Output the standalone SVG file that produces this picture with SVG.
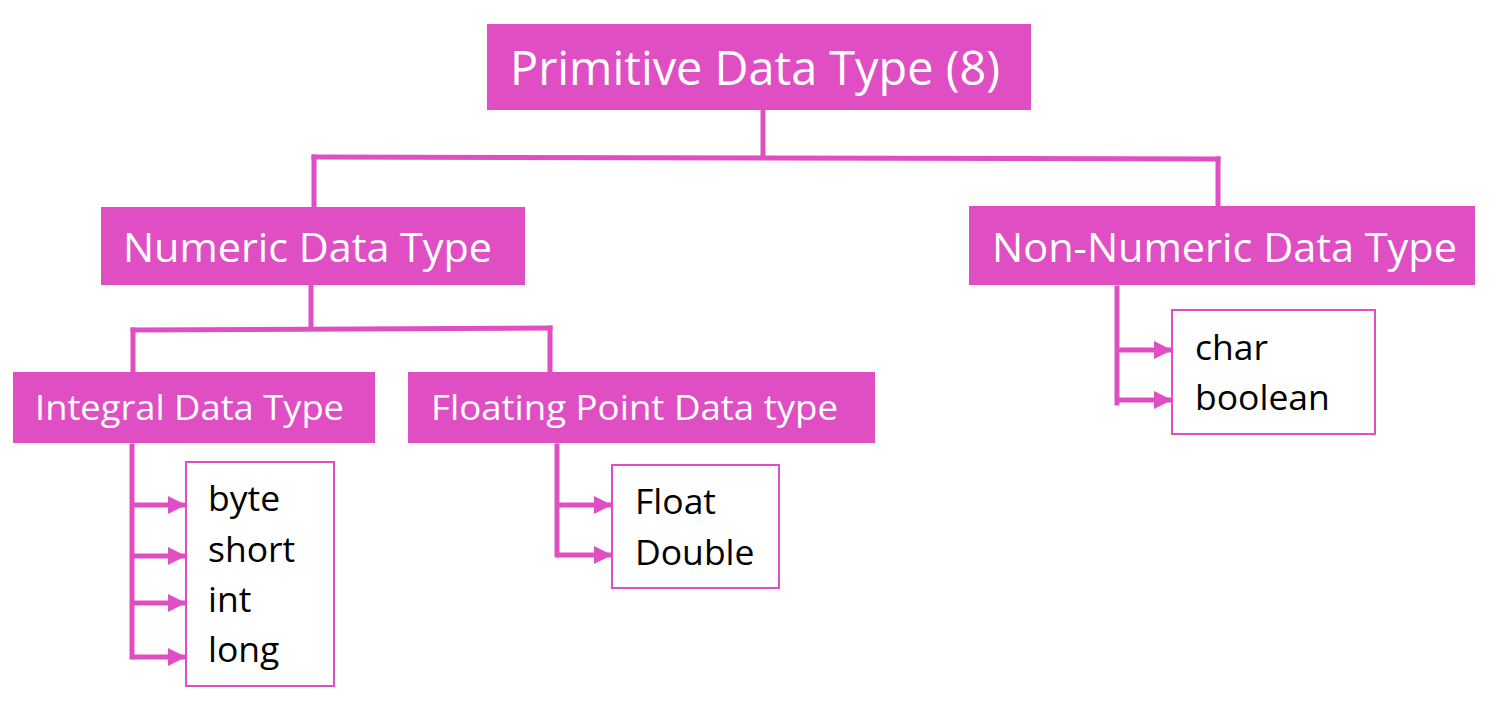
<svg xmlns="http://www.w3.org/2000/svg" width="1512" height="702" viewBox="0 0 1512 702">
<defs>
<style>
.hdr{fill:#DF4FC3}
.ht{fill:#fff;font-family:"Open Sans","Liberation Sans",sans-serif}
.lst{fill:#fff;stroke:#DF4FC3;stroke-width:2}
.lt{fill:#000;font-family:"Open Sans","Liberation Sans",sans-serif;font-size:35.5px}
.ln{fill:none;stroke:#DF4FC3;stroke-width:5;stroke-linecap:square}
.ar{fill:none;stroke:#DF4FC3;stroke-width:5;marker-end:url(#ah)}
</style>
<marker id="ah" viewBox="0 0 10 10" refX="10" refY="5" markerWidth="3.6" markerHeight="3.6" markerUnits="strokeWidth" orient="auto">
<path d="M0,0 L10,5 L0,10 z" fill="#DF4FC3"/>
</marker>
</defs>
<rect width="1512" height="702" fill="#fff"/>
<g id="connectors">
<path class="ln" d="M763,112 V157"/>
<path class="ln" d="M314,157 L1218,159"/>
<path class="ln" d="M314,157 V205"/>
<path class="ln" d="M1218,159 V204"/>
<path class="ln" d="M311,287 V327"/>
<path class="ln" d="M133,330 L550,328"/>
<path class="ln" d="M133,330 V370"/>
<path class="ln" d="M550,328 V370"/>
<path class="ln" d="M132,446 V657"/>
<path class="ar" d="M132,505 H186"/>
<path class="ar" d="M132,556 H186"/>
<path class="ar" d="M132,603 H186"/>
<path class="ar" d="M132,657 H186"/>
<path class="ln" d="M557,446 V555"/>
<path class="ar" d="M557,505 H612"/>
<path class="ar" d="M557,555 H612"/>
<path class="ln" d="M1117,288 V403"/>
<path class="ar" d="M1117,350 H1172"/>
<path class="ar" d="M1117,400 H1172"/>
</g>
<g id="primitive">
<rect class="hdr" x="487" y="24" width="544" height="86"/>
<text class="ht" x="510" y="85" font-size="47" textLength="490" lengthAdjust="spacingAndGlyphs">Primitive Data Type (8)</text>
</g>
<g id="numeric">
<rect class="hdr" x="101" y="207" width="424" height="78"/>
<text class="ht" x="123" y="262" font-size="40" textLength="369" lengthAdjust="spacingAndGlyphs">Numeric Data Type</text>
</g>
<g id="nonnumeric">
<rect class="hdr" x="969" y="206" width="506" height="79"/>
<text class="ht" x="992" y="262" font-size="40" textLength="465" lengthAdjust="spacingAndGlyphs">Non-Numeric Data Type</text>
</g>
<g id="integral">
<rect class="hdr" x="13" y="372" width="362" height="71"/>
<text class="ht" x="35" y="420" font-size="35" textLength="309" lengthAdjust="spacingAndGlyphs">Integral Data Type</text>
</g>
<g id="floating">
<rect class="hdr" x="408" y="372" width="467" height="71"/>
<text class="ht" x="431" y="420" font-size="35" textLength="407" lengthAdjust="spacingAndGlyphs">Floating Point Data type</text>
</g>
<g id="intlist">
<rect class="lst" x="186" y="462" width="148" height="224"/>
<text class="lt" x="208" y="511">byte</text>
<text class="lt" x="208" y="562">short</text>
<text class="lt" x="208" y="612">int</text>
<text class="lt" x="208" y="662">long</text>
</g>
<g id="floatlist">
<rect class="lst" x="612" y="465" width="167" height="123"/>
<text class="lt" x="635" y="514">Float</text>
<text class="lt" x="635" y="565">Double</text>
</g>
<g id="nonnumlist">
<rect class="lst" x="1172" y="310" width="203" height="124"/>
<text class="lt" x="1195" y="360">char</text>
<text class="lt" x="1195" y="410">boolean</text>
</g>
</svg>
